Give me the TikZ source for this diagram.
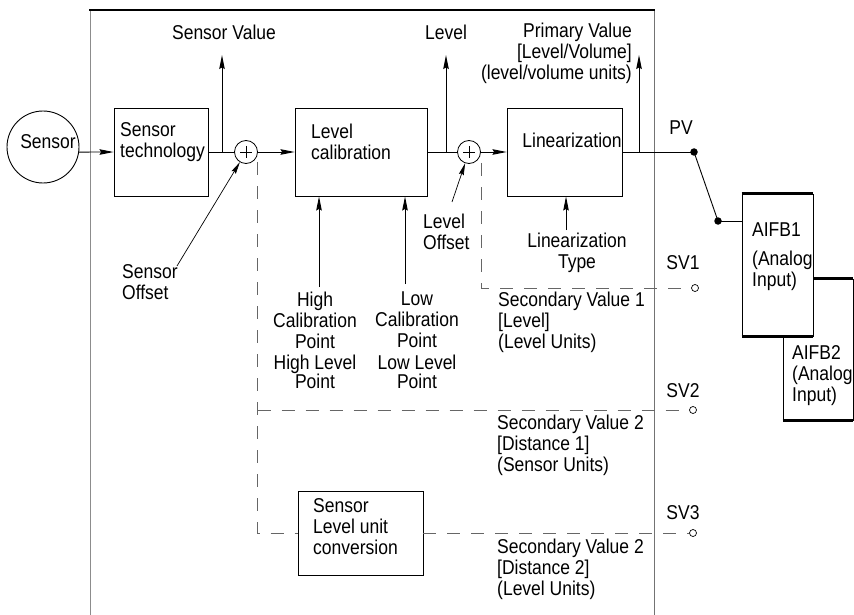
\documentclass[tikz,border=0pt]{standalone}
\usepackage{fontspec}
\setmainfont{Liberation Sans}[FakeStretch=0.875]
\usetikzlibrary{arrows.meta,calc}
\begin{document}
\begin{tikzpicture}[x=1pt,y=-1pt,
  every node/.style={font=\fontsize{20}{21}\selectfont, inner sep=0pt},
  blk/.style={draw, line width=0.9pt, rectangle},
  txt/.style={align=left},
  ctxt/.style={align=center},
  ln/.style={line width=0.9pt},
  arr/.style={line width=0.9pt, -{Stealth[length=14pt,width=5.5pt,inset=1.5pt]}},
  thinarr/.style={line width=0.7pt, -{Stealth[length=12pt,width=5pt,inset=1.5pt]}},
  dsh/.style={draw=black!60, line width=0.8pt, dash pattern=on 13pt off 11pt},
  sumc/.style={circle, draw, minimum size=23pt, line width=0.8pt},
  dotc/.style={circle, fill, minimum size=7.5pt},
  portc/.style={circle, draw, minimum size=7pt, line width=0.7pt},
  thickedge/.style={line width=2.6pt}]

\useasboundingbox (0,0) rectangle (854,615);

% frame
\draw[black!45, line width=0.8pt] (90,10) -- (90,615);
\draw[black!55, line width=0.8pt] (654,10) -- (654,615);
\draw[line width=2pt] (89,10) -- (655,10);

% sensor
\node[circle, draw, line width=0.9pt, minimum size=72pt] (sensor) at (43,147) {};
\node (sensortxt) at (48,142) {Sensor};

% blocks
\node[blk, minimum width=94pt, minimum height=88pt] (st) at (161,152) {};
\node[txt, anchor=west] (sttxt) at (120,142) {Sensor\\technology};

\node[sumc] (s1) at (246,152) {};
\node[blk, minimum width=132pt, minimum height=88pt] (lc) at (361,152) {};
\node[txt, anchor=west] (lctxt) at (311,142) {Level\\calibration};

\node[sumc] (s2) at (469,152) {};
\node[blk, minimum width=115pt, minimum height=88pt] (lin) at (564.5,152) {};
\node (lintxt) at (572,140) {Linearization};

% plus signs
\draw[line width=0.6pt] ($(s1.center)+(-6,0)$) -- ($(s1.center)+(6,0)$) ($(s1.center)+(0,-6)$) -- ($(s1.center)+(0,6)$);
\draw[line width=0.6pt] ($(s2.center)+(-6,0)$) -- ($(s2.center)+(6,0)$) ($(s2.center)+(0,-6)$) -- ($(s2.center)+(0,6)$);

% top labels
\node (svl) at (224,32) {Sensor Value};
\node (lvl) at (446,32) {Level};
\node[align=right, anchor=east] (pvl) at (632,53) {Primary Value\\{}[Level/Volume]\\(level/volume units)};

\coordinate (t1) at (222,152);
\coordinate (t1e) at (222,55);
\coordinate (t2) at (446,152);
\coordinate (t2e) at (446,55);
\coordinate (t3) at (639,152);
\coordinate (t3e) at (639,55);

% main signal path
\draw[arr] (sensor.-8) -- (st.west);
\draw[ln] (st.east) -- (s1.west);
\draw[arr] (s1.east) -- (lc.west);
\draw[ln] (lc.east) -- (s2.west);
\draw[arr] (s2.east) -- (lin.west);
\draw[arr] (t1) -- (t1e);
\draw[arr] (t2) -- (t2e);
\draw[arr] (t3) -- (t3e);

% PV switch
\node[dotc] (pv) at (694,152) {};
\node[dotc] (sw) at (718,221) {};
\node (pvtxt) at (681,128) {PV};
\draw[ln] (lin.east) -- (pv.center);
\draw[ln] (pv.center) -- (sw.center);

% AIFB boxes
\node[blk, fill=white, minimum width=70pt, minimum height=141pt] (a2) at (818,349.5) {};
\draw[thickedge] (a2.north west) -- (a2.north east);
\draw[thickedge] (a2.south west) -- (a2.south east);
\node[blk, fill=white, minimum width=71pt, minimum height=142pt] (a1) at (777.5,265) {};
\draw[thickedge] (a1.north west) -- (a1.north east);
\draw[thickedge] (a1.south west) -- (a1.south east);
\draw[ln] (sw.center) -- (a1.west |- sw);
\node[anchor=west] (a1t) at (752,230) {AIFB1};
\node[txt, anchor=west] (a1u) at (752,271) {(Analog\\Input)};
\node[txt, anchor=west] (a2t) at (792,376) {AIFB2\\(Analog\\Input)};

% sensor offset
\coordinate (sotail) at (177,266);
\draw[thinarr] (sotail) -- (s1.-121);
\node[txt, anchor=west] (sotxt) at (122,282) {Sensor\\Offset};

% level offset
\coordinate (lotail) at (452,202);
\draw[thinarr] (lotail) -- (s2.-109);
\node[txt, anchor=west] (lotxt) at (423,232) {Level\\Offset};

% linearization type
\coordinate (lttail) at (566,230);
\draw[arr] (lttail) -- (lttail |- lin.south);
\node[ctxt] (lttxt) at (577,253) {Linearization\\Type};

% calibration points
\coordinate (hctail) at (319,287);
\coordinate (lctail) at (405,284);
\draw[arr] (hctail) -- (hctail |- lc.south);
\draw[arr] (lctail) -- (lctail |- lc.south);
\node[ctxt] (hct) at (315,320) {High\\Calibration\\Point};
\node[ctxt, font=\fontsize{20}{19}\selectfont] (hlt) at (315,372) {High Level\\Point};
\node[ctxt] (lct) at (417,320) {Low\\Calibration\\Point};
\node[ctxt, font=\fontsize{20}{19}\selectfont] (llt) at (417,372) {Low Level\\Point};

% secondary values
\node[portc] (p1) at (695,288) {};
\node[portc] (p2) at (693,410) {};
\node[portc] (p3) at (693,533) {};
\node (sv1) at (683,263) {SV1};
\node (sv2) at (683,391) {SV2};
\node (sv3) at (683,513) {SV3};

\node[blk, minimum width=125pt, minimum height=84pt] (scu) at (360.5,533) {};
\node[txt, anchor=west] (scutxt) at (313,527) {Sensor\\Level unit\\conversion};

\coordinate (d1) at (481,163);
\coordinate (d2) at (257.5,162);
\coordinate (d2b) at (257.5,410);
\draw[dsh] (d1) |- (p1.west);
\draw[dsh] (d2) |- (scu.west);
\draw[dsh] (d2b) -- (p2.west);
\draw[dsh] (scu.east) -- (p3.west);

\node[txt, anchor=west] (sv1t) at (498,322) {Secondary Value 1\\{}[Level]\\(Level Units)};
\node[txt, anchor=west] (sv2t) at (497,445) {Secondary Value 2\\{}[Distance 1]\\(Sensor Units)};
\node[txt, anchor=west] (sv3t) at (497,569) {Secondary Value 2\\{}[Distance 2]\\(Level Units)};
\end{tikzpicture}
\end{document}
